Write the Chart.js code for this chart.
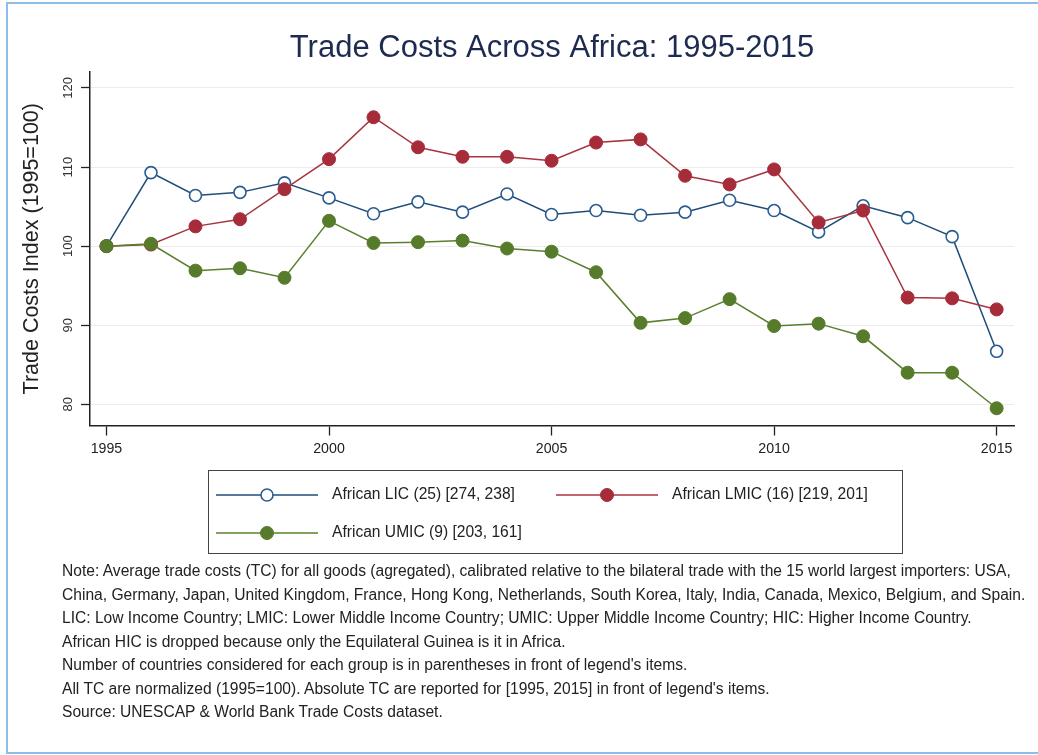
<!DOCTYPE html>
<html>
<head>
<meta charset="utf-8">
<script src="https://cdn.jsdelivr.net/npm/chart.js@4/dist/chart.umd.min.js"></script>
<style>
html,body{margin:0;padding:0;background:#fff;}
#wrap{position:relative;width:1038px;height:755px;overflow:hidden;background:#fff;}
#c{position:absolute;left:0;top:0;}
#frame{position:absolute;left:6px;top:2px;width:1100px;height:752px;border:2px solid #8fbde9;box-sizing:border-box;pointer-events:none;}
#notes{position:absolute;left:62px;top:559px;font-family:"Liberation Sans",Arial,sans-serif;font-size:15.6px;line-height:23.5px;color:#222;white-space:nowrap;}
</style>
</head>
<body>
<div id="wrap">
<canvas id="c" width="1038" height="755"></canvas>
<div id="frame"></div>
<div id="notes">
Note: Average trade costs (TC) for all goods (agregated), calibrated relative to the bilateral trade with the 15 world largest importers: USA,<br>
China, Germany, Japan, United Kingdom, France, Hong Kong, Netherlands, South Korea, Italy, India, Canada, Mexico, Belgium, and Spain.<br>
LIC: Low Income Country; LMIC: Lower Middle Income Country; UMIC: Upper Middle Income Country; HIC: Higher Income Country.<br>
African HIC is dropped because only the Equilateral Guinea is it in Africa.<br>
Number of countries considered for each group is in parentheses in front of legend's items.<br>
All TC are normalized (1995=100). Absolute TC are reported for [1995, 2015] in front of legend's items.<br>
Source: UNESCAP &amp; World Bank Trade Costs dataset.
</div>
</div>
<script>
const years = [1995,1996,1997,1998,1999,2000,2001,2002,2003,2004,2005,2006,2007,2008,2009,2010,2011,2012,2013,2014,2015];
const lic  = [100,109.3,106.4,106.8,108.0,106.1,104.1,105.6,104.3,106.6,104.0,104.5,103.9,104.3,105.8,104.5,101.8,105.1,103.6,101.2,86.7];
const lmic = [100,100.2,102.5,103.4,107.2,111.0,116.3,112.5,111.3,111.3,110.8,113.1,113.5,108.9,107.8,109.7,103.0,104.5,93.5,93.4,92.0];
const umic = [100,100.3,96.9,97.2,96.0,103.2,100.4,100.5,100.7,99.7,99.3,96.7,90.3,90.9,93.3,89.9,90.2,88.6,84.0,84.0,79.5];
const seriesLabels = ["African LIC (25) [274, 238]","African LMIC (16) [219, 201]","African UMIC (9) [203, 161]"];
const xTicks = [1995,2000,2005,2010,2015];
const yTicks = [80,90,100,110,120];
const chartTitle = "Trade Costs Across Africa: 1995-2015";
const yTitle = "Trade Costs Index (1995=100)";

const FONT = '"Liberation Sans", Arial, sans-serif';
Chart.defaults.font.family = FONT;

const toPts = arr => years.map((y,i)=>({x:y,y:arr[i]}));

const legendBox = {
  id:'legendBox',
  afterDraw(chart){
    const ctx = chart.ctx;
    ctx.save();
    ctx.strokeStyle = '#444';
    ctx.lineWidth = 1;
    ctx.strokeRect(208.5, 470.5, 694, 83);
    const slots = [[216,495],[556,495],[216,533]];
    chart.data.datasets.forEach((ds,i)=>{
      const [x,y] = slots[i];
      ctx.strokeStyle = ds.borderColor;
      ctx.lineWidth = 1.5;
      ctx.beginPath(); ctx.moveTo(x,y); ctx.lineTo(x+102,y); ctx.stroke();
      ctx.beginPath(); ctx.arc(x+51,y,ds.pointRadius,0,Math.PI*2);
      ctx.fillStyle = ds.pointBackgroundColor; ctx.fill();
      ctx.lineWidth = ds.pointBorderWidth; ctx.strokeStyle = ds.pointBorderColor; ctx.stroke();
      ctx.fillStyle = '#222';
      ctx.font = '15.6px ' + FONT;
      ctx.textBaseline = 'middle';
      ctx.textAlign = 'left';
      ctx.fillText(ds.label, x+116, y);
    });
    ctx.restore();
  }
};

new Chart(document.getElementById('c'), {
  type: 'line',
  data: {
    datasets: [
      {label: seriesLabels[0], data: toPts(lic), order: 2,
       borderColor:'#1f4d7a', borderWidth:1.5,
       pointRadius:6, pointBackgroundColor:'#ffffff', pointBorderColor:'#2a5d8f', pointBorderWidth:1.6, tension:0},
      {label: seriesLabels[1], data: toPts(lmic), order: 1,
       borderColor:'#a8343f', borderWidth:1.5,
       pointRadius:6.5, pointBackgroundColor:'#a62c3a', pointBorderColor:'#a62c3a', pointBorderWidth:1, tension:0},
      {label: seriesLabels[2], data: toPts(umic), order: 0,
       borderColor:'#5a7f2e', borderWidth:1.5,
       pointRadius:6.5, pointBackgroundColor:'#567b2a', pointBorderColor:'#567b2a', pointBorderWidth:1, tension:0}
    ]
  },
  options: {
    responsive:false,
    animation:false,
    events:[],
    layout:{padding:{left:10, top:0, right:24, bottom:289.5}},
    plugins:{
      legend:{display:false},
      tooltip:{enabled:false},
      title:{display:true, fullSize:false, text:chartTitle, color:'#1e2b50',
        font:{family:FONT, size:31, weight:'normal', lineHeight:1.2}, padding:{top:29.4, bottom:5.4}}
    },
    scales:{
      x:{type:'linear', min:1994.63, max:2015.39,
        afterBuildTicks: s => { s.ticks = xTicks.map(v=>({value:v})); },
        afterFit: s => { s.height = 40; },
        grid:{drawOnChartArea:false, drawTicks:true, tickLength:10, tickColor:'#222', tickWidth:1.3},
        border:{color:'#222', width:1.5},
        ticks:{color:'#222', font:{size:14.2}, padding:5, maxRotation:0, callback:v=>String(v)}
      },
      y:{type:'linear', min:77.32, max:122.02,
        afterBuildTicks: s => { s.ticks = yTicks.map(v=>({value:v})); },
        afterFit: s => { s.width = 80; },
        grid:{color:'#ececec', lineWidth:1, drawTicks:true, tickLength:9, tickColor:'#222', tickWidth:1.3},
        border:{color:'#222', width:1.5},
        ticks:{color:'#333', font:{size:13}, padding:2, minRotation:90, maxRotation:90, crossAlign:'center', callback:v=>String(v)},
        title:{display:true, text:yTitle, color:'#222', font:{size:21.5}, padding:{top:9, bottom:0}}
      }
    }
  },
  plugins:[legendBox]
});
</script>
</body>
</html>
